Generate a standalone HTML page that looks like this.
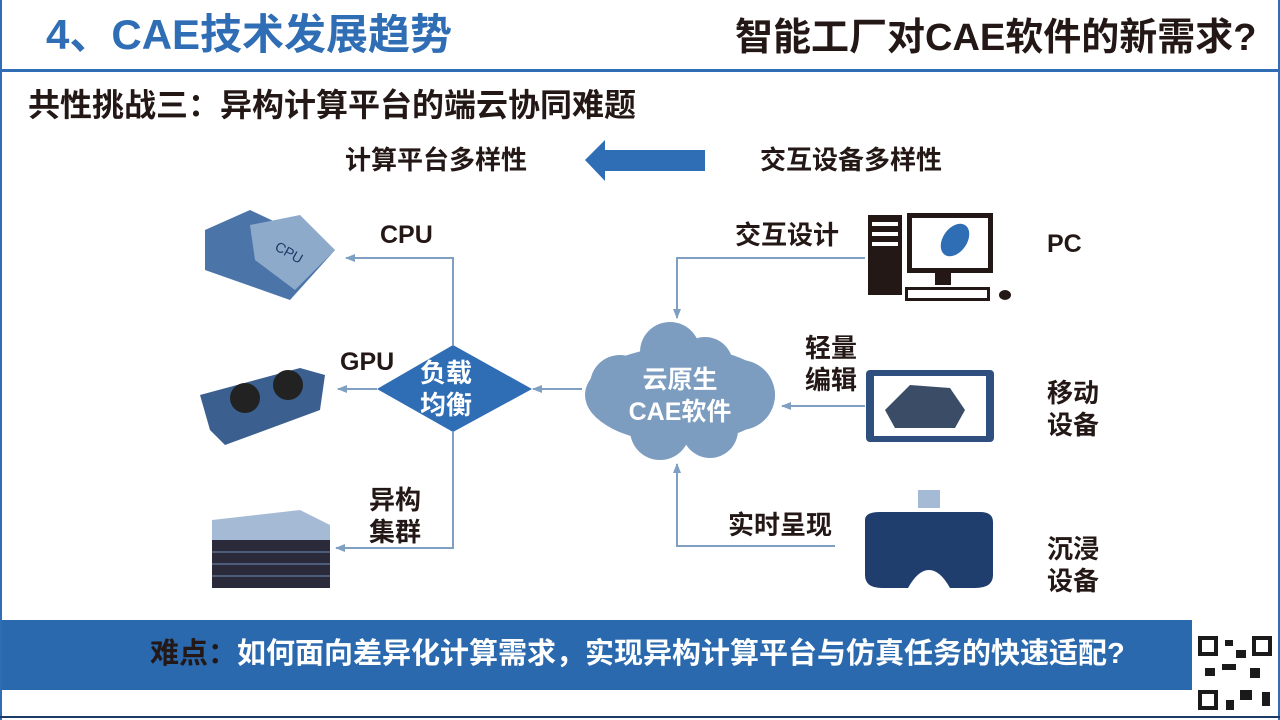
<!DOCTYPE html>
<html><head><meta charset="utf-8"><style>
body{margin:0;width:1280px;height:720px;overflow:hidden;background:#fff;font-family:"Liberation Sans","Noto Sans CJK SC",sans-serif;position:relative}
.t{position:absolute;white-space:nowrap;font-weight:bold;line-height:1}
</style></head><body>
<div style="position:absolute;left:0;top:0;width:2px;height:720px;background:#2f6db5"></div>
<div style="position:absolute;right:0;top:0;width:2px;height:720px;background:#2f6db5"></div>
<div style="position:absolute;left:0;top:69px;width:1280px;height:3px;background:#2f6db5"></div>
<div style="position:absolute;left:0;top:716px;width:1280px;height:2px;background:#1d3a66"></div>
<div class="t" style="left:46px;top:14px;font-size:42px;color:#2f6db5">4、CAE技术发展趋势</div>
<div class="t" style="left:735px;top:19px;font-size:38px;color:#231815">智能工厂对CAE软件的新需求?</div>
<div class="t" style="left:28px;top:89px;font-size:32px;color:#231815">共性挑战三：异构计算平台的端云协同难题</div>
<div class="t" style="left:345px;top:147px;font-size:26px;color:#231815">计算平台多样性</div>
<div class="t" style="left:760px;top:147px;font-size:26px;color:#231815">交互设备多样性</div>
<svg style="position:absolute;left:0;top:0" width="1280" height="720">
<defs><marker id="a" markerWidth="10" markerHeight="8" refX="9" refY="4" orient="auto" markerUnits="userSpaceOnUse"><path d="M0,0 L10,4 L0,8 Z" fill="#7f9fc3"/></marker></defs>
<polygon points="585,160 605,140 605,150 705,150 705,171 605,171 605,181" fill="#2f6db5"/>
<g stroke="#7f9fc3" stroke-width="2" fill="none">
<polyline points="453,345 453,258 346,258" marker-end="url(#a)"/>
<line x1="377" y1="389" x2="338" y2="389" marker-end="url(#a)"/>
<polyline points="453,432 453,548 336,548" marker-end="url(#a)"/>
<line x1="582" y1="389" x2="533" y2="389" marker-end="url(#a)"/>
<polyline points="865,258 677,258 677,318" marker-end="url(#a)"/>
<line x1="865" y1="406" x2="782" y2="406" marker-end="url(#a)"/>
<polyline points="835,546 677,546 677,464" marker-end="url(#a)"/>
</g>
<polygon points="377,389 453,345 532,389 453,432" fill="#2f6db5"/>
<g fill="#7d9dc0">
<ellipse cx="680" cy="395" rx="95" ry="48"/>
<circle cx="670" cy="352" r="30"/><circle cx="705" cy="365" r="28"/><circle cx="620" cy="385" r="30"/>
<circle cx="740" cy="395" r="35"/><circle cx="660" cy="430" r="30"/><circle cx="710" cy="430" r="28"/>
</g>
<polygon points="205,230 250,210 335,250 290,300 205,270" fill="#4b74a8"/>
<polygon points="250,225 300,215 335,250 295,290 255,260" fill="#8eaacb"/>
<text x="275" y="255" font-size="14" fill="#1d3a66" font-family="Liberation Sans" transform="rotate(30 285 250)">CPU</text>
<polygon points="200,395 300,368 325,375 320,410 225,445 210,430" fill="#3b5f8f"/>
<circle cx="245" cy="398" r="15" fill="#222"/><circle cx="288" cy="385" r="15" fill="#222"/>
<polygon points="212,520 300,510 330,525 330,540 212,540" fill="#a5bbd5"/>
<rect x="212" y="540" width="118" height="48" fill="#2a2a3a"/>
<g stroke="#6d8fb8" stroke-width="1"><line x1="212" y1="552" x2="330" y2="552"/><line x1="212" y1="564" x2="330" y2="564"/><line x1="212" y1="576" x2="330" y2="576"/></g>
<rect x="868" y="215" width="34" height="80" fill="#231815"/>
<rect x="872" y="222" width="26" height="4" fill="#fff"/><rect x="872" y="232" width="26" height="4" fill="#fff"/><rect x="872" y="242" width="26" height="4" fill="#fff"/>
<rect x="907" y="213" width="86" height="60" fill="#231815"/><rect x="912" y="218" width="76" height="50" fill="#fff"/>
<ellipse cx="955" cy="240" rx="12" ry="18" fill="#2f6db5" transform="rotate(35 955 240)"/>
<rect x="935" y="273" width="16" height="12" fill="#231815"/>
<rect x="905" y="287" width="85" height="14" fill="#231815"/><rect x="908" y="290" width="79" height="8" fill="#fff"/>
<ellipse cx="1005" cy="295" rx="6" ry="5" fill="#231815"/>
<rect x="866" y="370" width="128" height="72" rx="4" fill="#2f4f7f"/>
<rect x="874" y="376" width="112" height="60" fill="#fff"/>
<polygon points="885,410 910,385 950,388 965,410 955,428 895,428" fill="#3b4c66"/>
<rect x="918" y="490" width="22" height="18" fill="#a5bbd5"/>
<path d="M865,520 Q865,512 880,512 L980,512 Q993,512 993,522 L993,575 Q993,588 975,588 L950,588 Q940,570 929,570 Q918,570 908,588 L882,588 Q865,588 865,575 Z" fill="#1f3e6e"/>
<rect x="1193" y="630" width="84" height="86" fill="#fff"/>
<g fill="#1a1a1a"><rect x="1198" y="636" width="20" height="20"/><rect x="1252" y="636" width="20" height="20"/><rect x="1198" y="690" width="20" height="20"/>
<rect x="1225" y="640" width="8" height="6"/><rect x="1236" y="650" width="10" height="8"/><rect x="1222" y="664" width="14" height="6"/><rect x="1250" y="668" width="10" height="10"/><rect x="1240" y="690" width="12" height="10"/><rect x="1262" y="692" width="8" height="14"/><rect x="1205" y="668" width="10" height="8"/><rect x="1226" y="700" width="8" height="10"/></g>
<g fill="#fff"><rect x="1202" y="640" width="12" height="12"/><rect x="1256" y="640" width="12" height="12"/><rect x="1202" y="694" width="12" height="12"/></g>
</svg>
<div class="t" style="left:380px;top:223px;font-size:25px;color:#231815">CPU</div>
<div class="t" style="left:340px;top:350px;font-size:25px;color:#231815">GPU</div>
<div class="t" style="left:369px;top:484px;font-size:26px;color:#231815;line-height:32px">异构<br>集群</div>
<div class="t" style="left:420px;top:357px;font-size:26px;color:#fff;line-height:32px">负载<br>均衡</div>
<div class="t" style="left:625px;top:364px;font-size:25px;color:#fff;line-height:32px;text-align:center;width:110px">云原生<br>CAE软件</div>
<div class="t" style="left:735px;top:222px;font-size:26px;color:#231815">交互设计</div>
<div class="t" style="left:805px;top:332px;font-size:26px;color:#231815;line-height:32px">轻量<br>编辑</div>
<div class="t" style="left:728px;top:512px;font-size:26px;color:#231815">实时呈现</div>
<div class="t" style="left:1047px;top:232px;font-size:25px;color:#231815">PC</div>
<div class="t" style="left:1047px;top:377px;font-size:26px;color:#231815;line-height:32px">移动<br>设备</div>
<div class="t" style="left:1047px;top:533px;font-size:26px;color:#231815;line-height:32px">沉浸<br>设备</div>
<div style="position:absolute;left:2px;top:620px;width:1190px;height:70px;background:#2a69ae"></div>
<div class="t" style="left:150px;top:640px;font-size:29px;color:#231815">难点：<span style="color:#fff">如何面向差异化计算需求，实现异构计算平台与仿真任务的快速适配?</span></div>
</body></html>
